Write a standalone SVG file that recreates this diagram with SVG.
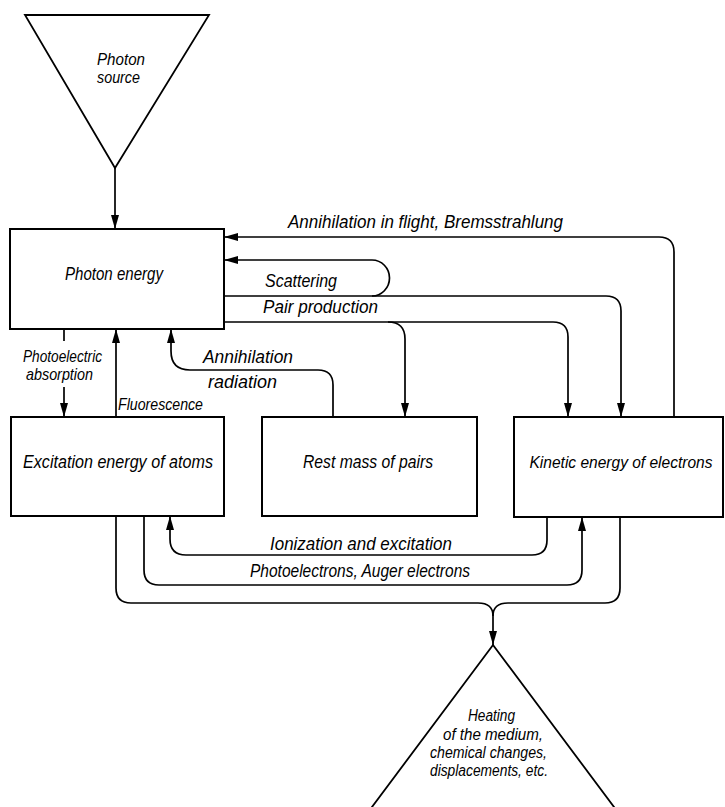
<svg xmlns="http://www.w3.org/2000/svg" width="725" height="807" viewBox="0 0 725 807">
<defs>
<style>
.box{fill:#fff;stroke:#000;stroke-width:2}
.tri{fill:#fff;stroke:#000;stroke-width:1.8;stroke-linejoin:miter}
.c{fill:none;stroke:#000;stroke-width:1.7}
.a{marker-end:url(#ah)}
text{font-family:"Liberation Sans Narrow","Liberation Sans",Arial,sans-serif;font-style:italic;font-size:18px;fill:#000}
.s{font-size:16px}
.m{font-size:17px}
.k{font-size:16px}
</style>
<marker id="ah" viewBox="0 0 14 8" refX="14" refY="4" markerWidth="14" markerHeight="8" markerUnits="userSpaceOnUse" orient="auto">
<path d="M0,0 L14,4 L0,8 Z" fill="#000"/>
</marker>
</defs>
<rect width="725" height="807" fill="#fff"/>
<g id="source">
<polygon class="tri" points="25,15 209,15 115,168"/>
<text class="m" x="97" y="65" textLength="48" lengthAdjust="spacingAndGlyphs">Photon</text>
<text class="m" x="97" y="83" textLength="43" lengthAdjust="spacingAndGlyphs">source</text>
</g>
<g id="photon-energy">
<rect class="box" x="10" y="229" width="214" height="100"/>
<text x="65" y="280" textLength="98" lengthAdjust="spacingAndGlyphs">Photon energy</text>
</g>
<g id="excitation">
<rect class="box" x="11" y="417" width="213" height="99"/>
<text x="23" y="468" textLength="190" lengthAdjust="spacingAndGlyphs">Excitation energy of atoms</text>
</g>
<g id="rest-mass">
<rect class="box" x="262" y="417" width="215" height="99"/>
<text x="303" y="468" textLength="130" lengthAdjust="spacingAndGlyphs">Rest mass of pairs</text>
</g>
<g id="kinetic">
<rect class="box" x="514" y="417" width="209" height="100"/>
<text class="k" x="621" y="468" text-anchor="middle" textLength="183" lengthAdjust="spacingAndGlyphs">Kinetic energy of electrons</text>
</g>
<g id="sink">
<polygon class="tri" points="493,645 366,815 620,815"/>
<text class="s" x="468" y="721" textLength="47" lengthAdjust="spacingAndGlyphs">Heating</text>
<text class="s" x="443" y="740" textLength="100" lengthAdjust="spacingAndGlyphs">of the medium,</text>
<text class="s" x="430" y="758" textLength="117" lengthAdjust="spacingAndGlyphs">chemical changes,</text>
<text class="s" x="430" y="776" textLength="118" lengthAdjust="spacingAndGlyphs">displacements, etc.</text>
</g>
<g id="connectors">
<path class="c a" d="M115,168 V229"/>
<path class="c a" d="M674,417 V252 Q674,237 659,237 H224"/>
<path class="c a" d="M224,296 H606 Q621,296 621,311 V417"/>
<path class="c a" d="M372,296 A17.5,18 0 0 0 372,260 H224"/>
<path class="c a" d="M224,322 H553 Q568,322 568,337 V417"/>
<path class="c a" d="M388,322 Q405,322 405,339 V417"/>
<path class="c" d="M64,329 V341"/>
<path class="c a" d="M64,387 V417"/>
<path class="c a" d="M116,417 V329"/>
<path class="c a" d="M333,417 V385 Q333,370 318,370 H190 Q171,370 171,351 V329"/>
<path class="c a" d="M547,517 V540 Q547,555 532,555 H186 Q170,555 170,539 V516"/>
<path class="c a" d="M144,516 V570 Q144,585 159,585 H567 Q582,585 582,570 V517"/>
<path class="c" d="M116,516 V588 Q116,603 131,603 H478 Q493,603 493,616"/>
<path class="c" d="M620,517 V588 Q620,603 605,603 H508 Q493,603 493,616"/>
<path class="c a" d="M493,616 V645"/>
<text x="288" y="228" textLength="275" lengthAdjust="spacingAndGlyphs">Annihilation in flight, Bremsstrahlung</text>
<text x="265" y="287" textLength="72" lengthAdjust="spacingAndGlyphs">Scattering</text>
<text x="263" y="313" textLength="115" lengthAdjust="spacingAndGlyphs">Pair production</text>
<text class="m" x="23" y="362" textLength="79" lengthAdjust="spacingAndGlyphs">Photoelectric</text>
<text class="m" x="26" y="380" textLength="67" lengthAdjust="spacingAndGlyphs">absorption</text>
<text class="m" x="118" y="410" textLength="85" lengthAdjust="spacingAndGlyphs">Fluorescence</text>
<text x="203" y="363" textLength="90" lengthAdjust="spacingAndGlyphs">Annihilation</text>
<text x="208" y="388" textLength="69" lengthAdjust="spacingAndGlyphs">radiation</text>
<text x="270" y="550" textLength="182" lengthAdjust="spacingAndGlyphs">Ionization and excitation</text>
<text x="250" y="577" textLength="220" lengthAdjust="spacingAndGlyphs">Photoelectrons, Auger electrons</text>
</g>
</svg>
